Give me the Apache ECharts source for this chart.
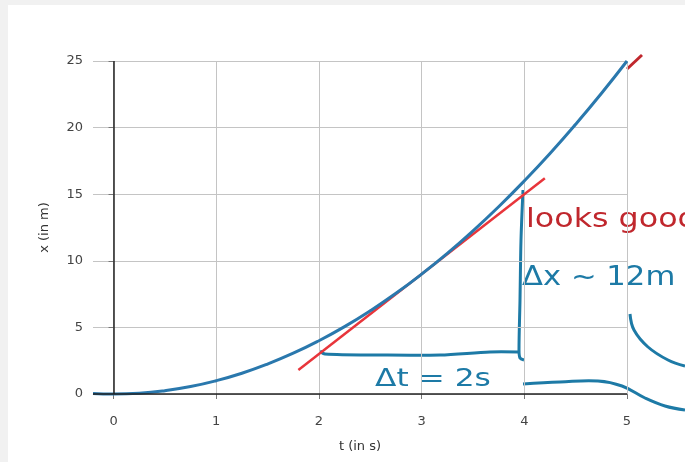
<!doctype html>
<html>
<head>
<meta charset="utf-8">
<title>x(t) with tangent</title>
<script src="https://cdn.jsdelivr.net/npm/echarts@6/dist/echarts.min.js"></script>
<style>
html,body{margin:0;padding:0;background:#f1f1f1;}
#paper{position:absolute;left:8px;top:5px;width:677px;height:457px;background:#fff;}
#chart{position:absolute;left:0;top:0;width:685px;height:462px;}
</style>
</head>
<body>
<div id="paper"></div>
<div id="chart"></div>
<script type="text/javascript">
// position curve
var tValues = [-0.2, 0, 0.25, 0.5, 0.75, 1, 1.25, 1.5, 1.75, 2, 2.25, 2.5, 2.75, 3, 3.25, 3.5, 3.75, 4, 4.25, 4.5, 4.75, 5];
var xValues = [0.04, 0, 0.06, 0.25, 0.56, 1.0, 1.56, 2.25, 3.06, 4.0, 5.06, 6.25, 7.56, 9.0, 10.56, 12.25, 14.06, 16.0, 18.06, 20.25, 22.56, 25.0];
// tangent at t = 3
var tangentT = [1.8, 4.2];
var tangentX = [1.8, 16.2];
// tick labels
var tTicks = [0, 1, 2, 3, 4, 5];
var xTicks = [0, 5, 10, 15, 20, 25];

var blue = '#2a78ad';
var red = '#e8353b';
var inkBlue = '#1d7aa6';
var inkRed = '#c0272d';
var font = 'DejaVu Sans';

function zip(a, b){
	var out = [];
	for(var i=0;i<a.length;i++){ out.push([a[i], b[i]]); }
	return out;
}

var chart = echarts.init(document.getElementById('chart'));
var option = {
	animation: false,
	grid: {left: 93, right: 58, top: 61, bottom: 68},
	xAxis: {
		type: 'value',
		min: -0.2,
		max: 5,
		offset: 13,
		name: 't (in s)',
		nameLocation: 'middle',
		nameGap: 33,
		nameTextStyle: {color: '#333', fontSize: 13, fontFamily: font},
		axisLine: {show: false},
		axisTick: {show: true, length: 5, customValues: tTicks, lineStyle: {color: '#777'}},
		axisLabel: {customValues: tTicks, color: '#444', fontSize: 13, fontFamily: font, margin: 8},
		splitLine: {show: true, lineStyle: {color: '#c4c4c4', width: 1}}
	},
	yAxis: {
		type: 'value',
		min: 0,
		max: 25,
		interval: 5,
		name: 'x (in m)',
		nameLocation: 'middle',
		nameGap: 42,
		nameRotate: 90,
		nameTextStyle: {color: '#333', fontSize: 13, fontFamily: font},
		axisLine: {show: false},
		axisTick: {show: true, length: 5, lineStyle: {color: '#777'}},
		axisLabel: {color: '#444', fontSize: 13, fontFamily: font, margin: 10},
		splitLine: {show: true, lineStyle: {color: '#c4c4c4', width: 1}}
	},
	series: [
		{
			type: 'line',
			data: [],
			silent: true,
			markLine: {
				symbol: 'none',
				silent: true,
				label: {show: false},
				lineStyle: {color: '#222', width: 1.5, type: 'solid'},
				data: [{yAxis: 0}, {xAxis: 0}]
			}
		},
		{
			type: 'line',
			data: zip(tValues, xValues),
			smooth: true,
			showSymbol: false,
			clip: false,
			z: 4,
			lineStyle: {color: blue, width: 3}
		},
		{
			type: 'line',
			data: zip(tangentT, tangentX),
			showSymbol: false,
			clip: false,
			z: 3,
			lineStyle: {color: red, width: 2.5}
		}
	],
	graphic: [
		// red tick mark top right
		{type: 'polyline', shape: {points: [[627, 69], [642, 55]]}, style: {stroke: inkRed, lineWidth: 3, fill: null}},
		// vertical bracket for delta x
		{type: 'polyline', shape: {points: [[523, 190], [521, 240], [520, 300], [519, 350], [520, 358], [524, 360]], smooth: 0.3}, style: {stroke: inkBlue, lineWidth: 3, fill: null}},
		// horizontal bracket for delta t
		{type: 'polyline', shape: {points: [[320, 351], [325, 354], [380, 355], [440, 355], [490, 352], [518, 352]], smooth: 0.3}, style: {stroke: inkBlue, lineWidth: 3, fill: null}},
		// lower right stroke
		{type: 'polyline', shape: {points: [[523, 384], [560, 382], [598, 381], [622, 386], [645, 398], [665, 406], [685, 410]], smooth: 0.4}, style: {stroke: inkBlue, lineWidth: 3, fill: null}},
		// upper right stroke
		{type: 'polyline', shape: {points: [[630, 314], [634, 330], [648, 347], [668, 360], [685, 366]], smooth: 0.4}, style: {stroke: inkBlue, lineWidth: 3, fill: null}},
		{type: 'text', x: 526, y: 207, scaleX: 1.22, style: {text: 'looks good', fill: inkRed, font: '26px "DejaVu Sans"'}},
		{type: 'text', x: 522, y: 265, scaleX: 1.18, style: {text: 'Δx ~ 12m', fill: inkBlue, font: '26px "DejaVu Sans"'}},
		{type: 'text', x: 375, y: 367, scaleX: 1.25, style: {text: 'Δt = 2s', fill: inkBlue, font: '25px "DejaVu Sans"'}}
	]
};
chart.setOption(option);
</script>
</body>
</html>
